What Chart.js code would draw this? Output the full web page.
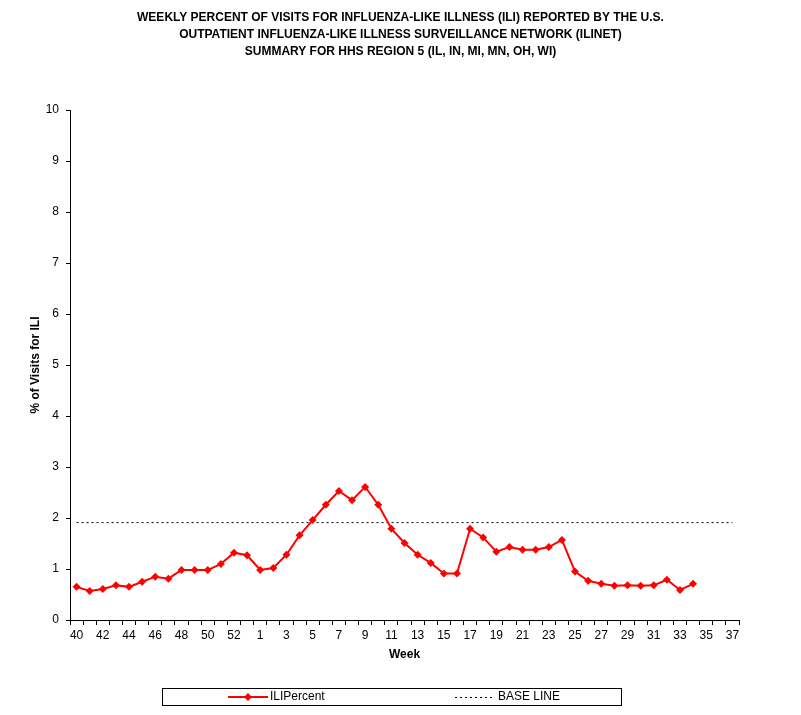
<!DOCTYPE html>
<html>
<head>
<meta charset="utf-8">
<script src="https://cdn.jsdelivr.net/npm/chart.js@4.4.1/dist/chart.umd.min.js"></script>
<style>
  html, body { margin: 0; padding: 0; background: #fff; }
  #wrap { width: 801px; height: 715px; }
</style>
</head>
<body>
<div id="wrap"><canvas id="iliChart" width="801" height="715"></canvas></div>
<script>
// weeks of the 2008-09 season (week 53 included)
const weeks = [40, 41, 42, 43, 44, 45, 46, 47, 48, 49, 50, 51, 52, 53,
  1, 2, 3, 4, 5, 6, 7, 8, 9, 10, 11, 12, 13, 14, 15, 16, 17, 18, 19, 20,
  21, 22, 23, 24, 25, 26, 27, 28, 29, 30, 31, 32, 33, 34, 35, 36, 37];

// % of visits for ILI
const iliPercent = [0.65, 0.57, 0.61, 0.68, 0.65, 0.75, 0.85, 0.81, 0.98, 0.98,
  0.98, 1.10, 1.32, 1.27, 0.98, 1.02, 1.28, 1.66, 1.96, 2.26, 2.53, 2.35, 2.61,
  2.26, 1.79, 1.51, 1.28, 1.12, 0.91, 0.91, 1.79, 1.62, 1.34, 1.43, 1.38, 1.38,
  1.43, 1.57, 0.95, 0.77, 0.71, 0.67, 0.68, 0.67, 0.68, 0.79, 0.59, 0.71,
  null, null, null];

const baseLineValue = 1.91;
const baseLine = weeks.map(() => baseLineValue);

const titleLines = [
  'WEEKLY PERCENT OF VISITS FOR INFLUENZA-LIKE ILLNESS (ILI) REPORTED BY THE U.S.',
  'OUTPATIENT INFLUENZA-LIKE ILLNESS SURVEILLANCE NETWORK (ILINET)',
  'SUMMARY FOR HHS REGION 5 (IL, IN, MI, MN, OH, WI)'
];

const FONT = '"Liberation Sans", Arial, sans-serif';

// legend drawn by hand: boxed, wide gap between the two entries
const boxLegend = {
  id: 'boxLegend',
  afterDraw(chart) {
    const ctx = chart.ctx;
    ctx.save();
    ctx.strokeStyle = '#000';
    ctx.lineWidth = 1;
    ctx.strokeRect(162.5, 688.5, 459, 17);

    const y = 697;
    // ILIPercent sample
    ctx.strokeStyle = '#ff0000';
    ctx.lineWidth = 2;
    ctx.beginPath();
    ctx.moveTo(228, y);
    ctx.lineTo(268, y);
    ctx.stroke();
    ctx.fillStyle = '#ff0000';
    ctx.beginPath();
    ctx.moveTo(248, y - 4);
    ctx.lineTo(252, y);
    ctx.lineTo(248, y + 4);
    ctx.lineTo(244, y);
    ctx.closePath();
    ctx.fill();

    // BASE LINE sample
    ctx.strokeStyle = '#000';
    ctx.lineWidth = 1;
    ctx.setLineDash([2, 3]);
    ctx.beginPath();
    ctx.moveTo(455, y + 0.5);
    ctx.lineTo(494, y + 0.5);
    ctx.stroke();
    ctx.setLineDash([]);

    ctx.fillStyle = '#000';
    ctx.font = '12px ' + FONT;
    ctx.textBaseline = 'middle';
    ctx.textAlign = 'left';
    ctx.fillText('ILIPercent', 270, y);
    ctx.fillText('BASE LINE', 498, y);
    ctx.restore();
  }
};

const ctx = document.getElementById('iliChart').getContext('2d');
new Chart(ctx, {
  type: 'line',
  data: {
    labels: weeks,
    datasets: [
      {
        label: 'ILIPercent',
        data: iliPercent,
        borderColor: '#ff0000',
        backgroundColor: '#ff0000',
        borderWidth: 2,
        pointStyle: 'rectRot',
        pointRadius: 4,
        pointBorderWidth: 0,
        tension: 0,
        spanGaps: false
      },
      {
        label: 'BASE LINE',
        data: baseLine,
        borderColor: '#000',
        borderWidth: 1,
        borderDash: [2, 3],
        pointRadius: 0,
        tension: 0
      }
    ]
  },
  options: {
    responsive: false,
    animation: false,
    layout: { padding: { left: 0, right: 0, top: 0, bottom: 50 } },
    plugins: {
      legend: { display: false },
      tooltip: { enabled: false },
      title: {
        display: true,
        text: titleLines,
        color: '#000',
        font: { family: FONT, size: 12, weight: 'bold', lineHeight: 1.42 },
        padding: { top: 9, bottom: 50 }
      }
    },
    scales: {
      x: {
        offset: true,
        grid: {
          display: true,
          offset: true,
          drawOnChartArea: false,
          drawTicks: true,
          tickLength: 5,
          color: '#000'
        },
        border: { display: true, color: '#000', width: 1 },
        ticks: {
          autoSkip: false,
          maxRotation: 0,
          color: '#000',
          font: { family: FONT, size: 12 },
          padding: 3,
          callback: (v, i) => (i % 2 === 0 ? weeks[i] : '')
        },
        title: {
          display: true,
          text: 'Week',
          color: '#000',
          font: { family: FONT, size: 12, weight: 'bold' },
          padding: { top: 0, bottom: 3 }
        },
        afterFit: s => { s.height = 45; }
      },
      y: {
        min: 0,
        max: 10,
        grid: {
          display: true,
          drawOnChartArea: false,
          drawTicks: true,
          tickLength: 4,
          color: '#000'
        },
        border: { display: true, color: '#000', width: 1 },
        ticks: {
          stepSize: 1,
          color: '#000',
          font: { family: FONT, size: 12 },
          padding: 7
        },
        title: {
          display: true,
          text: '% of Visits for ILI',
          color: '#000',
          font: { family: FONT, size: 12, weight: 'bold' },
          padding: { top: 28, bottom: 0 }
        },
        afterFit: s => { s.width = 70; }
      },
      y2: {
        position: 'right',
        min: 0,
        max: 10,
        grid: { display: false },
        border: { display: false },
        ticks: { display: false },
        afterFit: s => { s.width = 62; }
      }
    }
  },
  plugins: [boxLegend]
});
</script>
</body>
</html>
